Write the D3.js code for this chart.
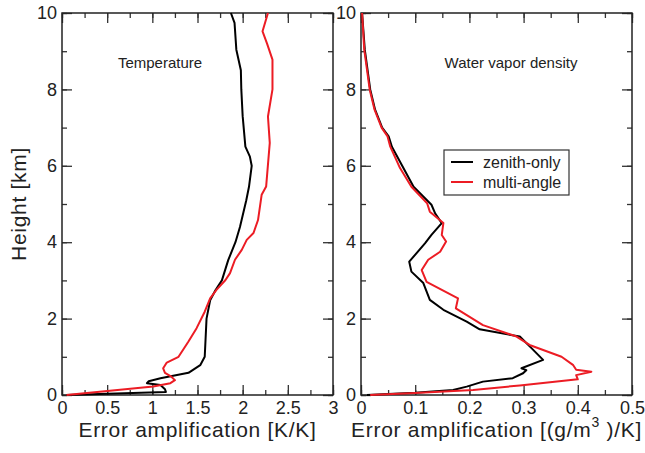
<!DOCTYPE html>
<html>
<head>
<meta charset="utf-8">
<script src="https://cdn.jsdelivr.net/npm/d3@7"></script>
<style>
  body { margin: 0; background: #fff; }
  svg { font-family: "Liberation Sans", Arial, sans-serif; }
</style>
</head>
<body>
<svg id="chart" width="645" height="453"></svg>
<script>
// temperature panel
const tempZenithH = [0, 0.08, 0.15, 0.26, 0.31, 0.36, 0.44, 0.58, 0.78, 1.0, 1.5, 2.0, 2.48, 2.75, 3.0, 3.53, 4.0, 4.4, 5.1, 5.45, 6.0, 6.24, 6.5, 7.3, 8.0, 8.5, 9.04, 9.74, 10]
const tempZenithV = [0.05, 1.15, 1.14, 1.09, 0.94, 0.96, 1.09, 1.40, 1.53, 1.58, 1.59, 1.60, 1.64, 1.70, 1.77, 1.84, 1.92, 1.97, 2.04, 2.07, 2.10, 2.08, 2.03, 2.00, 1.985, 1.98, 1.93, 1.91, 1.87]

const tempMultiH = [0, 0.22, 0.31, 0.39, 0.48, 0.58, 0.70, 0.85, 1.0, 1.4, 1.75, 2.18, 2.53, 2.75, 3.01, 3.19, 3.54, 3.8, 4.06, 4.24, 4.58, 5.24, 5.46, 6.03, 6.6, 7.29, 8.0, 8.78, 9.2, 9.52, 10]
const tempMultiV = [0.05, 1.01, 1.20, 1.25, 1.21, 1.14, 1.12, 1.16, 1.29, 1.40, 1.49, 1.58, 1.64, 1.71, 1.81, 1.86, 1.915, 1.99, 2.045, 2.12, 2.17, 2.21, 2.26, 2.28, 2.30, 2.28, 2.33, 2.33, 2.27, 2.22, 2.28]

// water vapor panel
const wvZenithH = [0, 0.06, 0.13, 0.22, 0.35, 0.44, 0.57, 0.65, 0.70, 0.92, 1.22, 1.53, 1.72, 1.92, 2.23, 2.49, 2.93, 3.23, 3.49, 3.97, 4.19, 4.5, 4.75, 4.98, 5.45, 6.03, 6.5, 6.77, 7.0, 7.47, 8.0, 9.04, 10]
const wvZenithV = [0.011, 0.10, 0.17, 0.195, 0.225, 0.28, 0.299, 0.305, 0.296, 0.336, 0.315, 0.293, 0.219, 0.195, 0.152, 0.127, 0.115, 0.093, 0.089, 0.118, 0.130, 0.149, 0.137, 0.130, 0.097, 0.075, 0.057, 0.051, 0.039, 0.026, 0.017, 0.007, 0.002]

const wvMultiH = [0, 0.05, 0.13, 0.25, 0.41, 0.52, 0.61, 0.66, 0.79, 1.0, 1.31, 1.53, 1.83, 2.27, 2.53, 2.96, 3.27, 3.54, 3.75, 4.02, 4.19, 4.5, 4.8, 5.02, 5.45, 5.94, 6.5, 6.77, 7.0, 7.47, 8.0, 9.04, 10]
const wvMultiV = [0.017, 0.10, 0.207, 0.293, 0.40, 0.397, 0.425, 0.397, 0.391, 0.37, 0.311, 0.287, 0.225, 0.175, 0.179, 0.121, 0.112, 0.124, 0.146, 0.157, 0.149, 0.152, 0.127, 0.122, 0.093, 0.072, 0.054, 0.049, 0.038, 0.025, 0.016, 0.006, 0.002]

const heightTicks = [0, 2, 4, 6, 8, 10]
const tempTicks = [0, 0.5, 1, 1.5, 2, 2.5, 3]
const wvTicks = [0, 0.1, 0.2, 0.3, 0.4, 0.5]
const seriesNames = ['zenith-only', 'multi-angle']
const seriesColors = ['#000000', '#ec1c24']

const svg = d3.select('#chart')
const yTop = 13, yBottom = 395

const y = d3.scaleLinear().domain([0, 10]).range([yBottom, yTop])

function toPoints (vals, hs) {
  return vals.map((v, i) => [v, hs[i]])
}

function panel (opts) {
  const x = d3.scaleLinear().domain(opts.domain).range([opts.left, opts.right])
  const g = svg.append('g')

  const minorX = d3.range(opts.domain[0], opts.domain[1] + 1e-9, opts.minor)
  const minorY = d3.range(0, 10.001, 1)

  // inward ticks on all four sides
  const axes = [
    [d3.axisBottom(x).tickValues(minorX).tickSize(-5).tickFormat(''), `translate(0,${yBottom})`],
    [d3.axisTop(x).tickValues(minorX).tickSize(-5).tickFormat(''), `translate(0,${yTop})`],
    [d3.axisLeft(y).tickValues(minorY).tickSize(-5).tickFormat(''), `translate(${opts.left},0)`],
    [d3.axisRight(y).tickValues(minorY).tickSize(-5).tickFormat(''), `translate(${opts.right},0)`],
    [d3.axisBottom(x).tickValues(opts.ticks).tickSize(-10).tickPadding(6).tickFormat(d3.format('')), `translate(0,${yBottom})`],
    [d3.axisTop(x).tickValues(opts.ticks).tickSize(-10).tickFormat(''), `translate(0,${yTop})`],
    [d3.axisLeft(y).tickValues(heightTicks).tickSize(-10).tickPadding(5), `translate(${opts.left},0)`],
    [d3.axisRight(y).tickValues(heightTicks).tickSize(-10).tickFormat(''), `translate(${opts.right},0)`]
  ]
  axes.forEach(([ax, tr]) => {
    const a = g.append('g').attr('transform', tr).call(ax)
    a.select('.domain').remove()
    a.selectAll('line').attr('stroke', '#333').attr('stroke-width', 1.3)
    a.selectAll('text').attr('font-size', 18).attr('fill', '#222')
      .attr('font-family', '"Liberation Sans", Arial, sans-serif')
  })

  g.append('rect')
    .attr('x', opts.left).attr('y', yTop)
    .attr('width', opts.right - opts.left).attr('height', yBottom - yTop)
    .attr('fill', 'none').attr('stroke', '#222').attr('stroke-width', 1.5)

  const line = d3.line().x(d => x(d[0])).y(d => y(d[1]))

  opts.series.forEach((s, i) => {
    g.append('path')
      .datum(s)
      .attr('d', line)
      .attr('fill', 'none')
      .attr('stroke', seriesColors[i])
      .attr('stroke-width', 2)
      .attr('stroke-linejoin', 'round')
  })

  g.append('text')
    .attr('x', opts.titleX).attr('y', 68)
    .attr('text-anchor', 'middle')
    .attr('font-size', 15).attr('fill', '#222')
    .text(opts.title)

  const lab = g.append('text')
    .attr('x', (opts.left + opts.right) / 2).attr('y', 437)
    .attr('text-anchor', 'middle')
    .attr('font-size', 21).attr('letter-spacing', 0.7).attr('fill', '#222')
  opts.label(lab)

  return x
}

panel({
  left: 62, right: 333, domain: [0, 3], ticks: tempTicks, minor: 0.25,
  series: [toPoints(tempZenithV, tempZenithH), toPoints(tempMultiV, tempMultiH)],
  title: 'Temperature', titleX: 160,
  label: t => t.text('Error amplification [K/K]')
})

panel({
  left: 361, right: 632, domain: [0, 0.5], ticks: wvTicks, minor: 0.05,
  series: [toPoints(wvZenithV, wvZenithH), toPoints(wvMultiV, wvMultiH)],
  title: 'Water vapor density', titleX: 511,
  label: t => {
    t.append('tspan').text('Error amplification [(g/m')
    t.append('tspan').attr('dy', -10).attr('font-size', 14).text('3')
    t.append('tspan').attr('dy', 10).text(' )/K]')
  }
})

svg.append('text')
  .attr('transform', 'translate(19,204) rotate(-90)')
  .attr('text-anchor', 'middle')
  .attr('dy', '0.35em')
  .attr('font-size', 21).attr('letter-spacing', 0.7).attr('fill', '#222')
  .text('Height [km]')

// legend
const legend = svg.append('g')
legend.append('rect')
  .attr('x', 444).attr('y', 150).attr('width', 125).attr('height', 45)
  .attr('fill', '#fff').attr('stroke', '#333').attr('stroke-width', 1.2)
seriesNames.forEach((name, i) => {
  const ly = 162 + i * 20
  legend.append('line')
    .attr('x1', 451).attr('x2', 473).attr('y1', ly).attr('y2', ly)
    .attr('stroke', seriesColors[i]).attr('stroke-width', 2)
  legend.append('text')
    .attr('x', 483).attr('y', ly + 5.5)
    .attr('font-size', 16).attr('fill', '#222')
    .text(name)
})
</script>
</body>
</html>
